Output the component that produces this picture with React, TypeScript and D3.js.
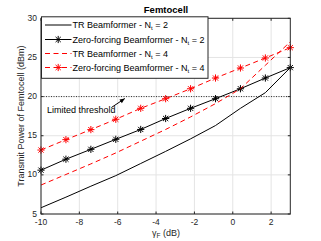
import React, { useEffect, useRef } from 'react';
import * as d3 from 'd3';

// gamma_F samples (dB)
const gammaF = [-10, -8.7, -7.4, -6.1, -4.8, -3.5, -2.2, -0.9, 0.4, 1.7, 3.0];

const trN2 = [5.8, 7.15, 8.55, 9.9, 11.45, 13.0, 14.6, 16.3, 18.5, 20.5, 23.7];
const zfN2 = [10.6, 12.0, 13.26, 14.54, 15.8, 17.2, 18.5, 19.73, 21.0, 22.37, 23.7];
const trN4 = [8.7, 10.05, 11.4, 12.8, 14.3, 15.8, 17.4, 19.1, 21.0, 24.0, 27.0];
const zfN4 = [13.17, 14.5, 15.78, 17.1, 18.5, 19.73, 21.0, 22.37, 23.65, 24.93, 26.25];

const xTicks = [-10, -8, -6, -4, -2, 0, 2];
const yTicks = [5, 10, 15, 20, 25, 30];
const threshold = 20;

const legendLabels = [
  'TR Beamformer - N',
  'Zero-forcing Beamformer - N',
  'TR Beamformer - N',
  'Zero-forcing Beamformer - N',
];
const legendN = [2, 2, 4, 4];

const App = () => {
  const svgRef = useRef<SVGSVGElement>(null);

  useEffect(() => {
    const svg = d3.select(svgRef.current);
    svg.selectAll('*').remove();
    const font = 'Liberation Sans, Arial, sans-serif';

    const x = d3.scaleLinear().domain([-10, 3]).range([41, 290.3]);
    const y = d3.scaleLinear().domain([5, 30]).range([214, 18.3]);

    svg.append('rect').attr('width', 321).attr('height', 241).attr('fill', '#fff');

    // grid
    const grid = svg.append('g').attr('stroke', '#e4e4e4').attr('stroke-width', 1);
    xTicks.forEach((t) => {
      grid.append('line').attr('x1', x(t)).attr('x2', x(t)).attr('y1', y(5)).attr('y2', y(30));
    });
    yTicks.forEach((t) => {
      grid.append('line').attr('x1', x(-10)).attr('x2', x(3)).attr('y1', y(t)).attr('y2', y(t));
    });

    // threshold line
    svg
      .append('line')
      .attr('x1', x(-10))
      .attr('x2', x(3))
      .attr('y1', y(threshold))
      .attr('y2', y(threshold))
      .attr('stroke', '#333')
      .attr('stroke-width', 1)
      .attr('stroke-dasharray', '1,1.5');

    const pts = (vals: number[]) => gammaF.map((g, i) => [g, vals[i]] as [number, number]);
    const line = d3
      .line<[number, number]>()
      .x((d) => x(d[0]))
      .y((d) => y(d[1]));

    const series = [
      { vals: trN2, color: '#000', dash: null, marker: false },
      { vals: zfN2, color: '#000', dash: null, marker: true },
      { vals: trN4, color: '#ff0000', dash: '5,3.5', marker: false },
      { vals: zfN4, color: '#ff0000', dash: '5,3.5', marker: true },
    ];

    const star = (g: any, cx: number, cy: number, color: string) => {
      const r = 3.6;
      const s = g.append('g').attr('stroke', color).attr('stroke-width', 1);
      s.append('line').attr('x1', cx - r).attr('x2', cx + r).attr('y1', cy).attr('y2', cy);
      s.append('line').attr('x1', cx).attr('x2', cx).attr('y1', cy - r).attr('y2', cy + r);
      const d = r * 0.72;
      s.append('line').attr('x1', cx - d).attr('x2', cx + d).attr('y1', cy - d).attr('y2', cy + d);
      s.append('line').attr('x1', cx - d).attr('x2', cx + d).attr('y1', cy + d).attr('y2', cy - d);
    };

    const plot = svg.append('g');
    series.forEach((s) => {
      plot
        .append('path')
        .attr('d', line(pts(s.vals)))
        .attr('fill', 'none')
        .attr('stroke', s.color)
        .attr('stroke-width', 1)
        .attr('stroke-dasharray', s.dash);
      if (s.marker) {
        pts(s.vals).forEach((p) => star(plot, x(p[0]), y(p[1]), s.color));
      }
    });

    // annotation
    const ax1 = x(-6.33);
    const ay1 = y(18.6);
    const ax2 = x(-5.63);
    const ay2 = y(19.75);
    svg
      .append('line')
      .attr('x1', ax1)
      .attr('y1', ay1)
      .attr('x2', ax2)
      .attr('y2', ay2)
      .attr('stroke', '#000')
      .attr('stroke-width', 1);
    const ang = Math.atan2(ay2 - ay1, ax2 - ax1);
    const hl = 5;
    const hw = 2.2;
    const bx = ax2 - hl * Math.cos(ang);
    const by = ay2 - hl * Math.sin(ang);
    svg
      .append('path')
      .attr(
        'd',
        `M${ax2},${ay2}L${bx - hw * Math.sin(ang)},${by + hw * Math.cos(ang)}L${bx + hw * Math.sin(ang)},${by - hw * Math.cos(ang)}Z`
      )
      .attr('fill', '#000');
    svg
      .append('text')
      .attr('x', 47)
      .attr('y', 112.5)
      .attr('font-family', font)
      .attr('font-size', 9)
      .attr('fill', '#000')
      .text('Limited threshold');

    // axes box
    svg
      .append('rect')
      .attr('x', x(-10))
      .attr('y', y(30))
      .attr('width', x(3) - x(-10))
      .attr('height', y(5) - y(30))
      .attr('fill', 'none')
      .attr('stroke', '#262626')
      .attr('stroke-width', 1);

    const ticks = svg.append('g').attr('stroke', '#262626').attr('stroke-width', 1);
    xTicks.forEach((t) => {
      ticks.append('line').attr('x1', x(t)).attr('x2', x(t)).attr('y1', y(5)).attr('y2', y(5) - 2.5);
      ticks.append('line').attr('x1', x(t)).attr('x2', x(t)).attr('y1', y(30)).attr('y2', y(30) + 2.5);
    });
    yTicks.forEach((t) => {
      ticks.append('line').attr('x1', x(-10)).attr('x2', x(-10) + 2.5).attr('y1', y(t)).attr('y2', y(t));
      ticks.append('line').attr('x1', x(3)).attr('x2', x(3) - 2.5).attr('y1', y(t)).attr('y2', y(t));
    });

    svg
      .append('g')
      .selectAll('text')
      .data(xTicks)
      .enter()
      .append('text')
      .attr('x', (d) => x(d))
      .attr('y', 224.5)
      .attr('text-anchor', 'middle')
      .attr('font-family', font)
      .attr('font-size', 8.5)
      .attr('fill', '#262626')
      .text((d) => (d < 0 ? '-' + Math.abs(d) : String(d)));

    svg
      .append('g')
      .selectAll('text')
      .data(yTicks)
      .enter()
      .append('text')
      .attr('x', 37)
      .attr('y', (d) => y(d) + 2.6)
      .attr('text-anchor', 'end')
      .attr('font-family', font)
      .attr('font-size', 8.5)
      .attr('fill', '#262626')
      .text((d) => String(d));

    // axis labels and title
    const xl = svg
      .append('text')
      .attr('x', 166)
      .attr('y', 236)
      .attr('text-anchor', 'middle')
      .attr('font-family', font)
      .attr('font-size', 9)
      .attr('fill', '#262626');
    xl.append('tspan').text('γ');
    xl.append('tspan').attr('font-size', 6.5).attr('dy', 2).text('F');
    xl.append('tspan').attr('dy', -2).text(' (dB)');

    svg
      .append('text')
      .attr('transform', `translate(24,${(y(5) + y(30)) / 2}) rotate(-90)`)
      .attr('text-anchor', 'middle')
      .attr('font-family', font)
      .attr('font-size', 9)
      .attr('fill', '#262626')
      .text('Transmit Power of Femtocell (dBm)');

    svg
      .append('text')
      .attr('x', 166)
      .attr('y', 13)
      .attr('text-anchor', 'middle')
      .attr('font-family', font)
      .attr('font-size', 9.5)
      .attr('font-weight', 'bold')
      .attr('fill', '#000')
      .text('Femtocell');

    // legend
    const lg = svg.append('g');
    lg.append('rect')
      .attr('x', 41.5)
      .attr('y', 16.8)
      .attr('width', 166.5)
      .attr('height', 61.5)
      .attr('fill', '#fff')
      .attr('stroke', '#262626')
      .attr('stroke-width', 1);
    const rowY = [25, 39.5, 53.5, 67.5];
    series.forEach((s, i) => {
      const ly = rowY[i];
      lg.append('line')
        .attr('x1', 45)
        .attr('x2', 71.5)
        .attr('y1', ly)
        .attr('y2', ly)
        .attr('stroke', s.color)
        .attr('stroke-width', 1)
        .attr('stroke-dasharray', s.dash);
      if (s.marker) star(lg, 58.2, ly, s.color);
      const t = lg
        .append('text')
        .attr('x', 72.5)
        .attr('y', ly + 3.2)
        .attr('font-family', font)
        .attr('font-size', 9)
        .attr('fill', '#000');
      t.append('tspan').text(legendLabels[i]);
      t.append('tspan').attr('font-size', 6).attr('dy', 2).text('t');
      t.append('tspan').attr('dy', -2).text(' = ' + legendN[i]);
    });
  }, []);

  return (
    <svg
      ref={svgRef}
      width={321}
      height={241}
      style={{ position: 'absolute', left: 0, top: 0 }}
    ></svg>
  );
};

export default App;
